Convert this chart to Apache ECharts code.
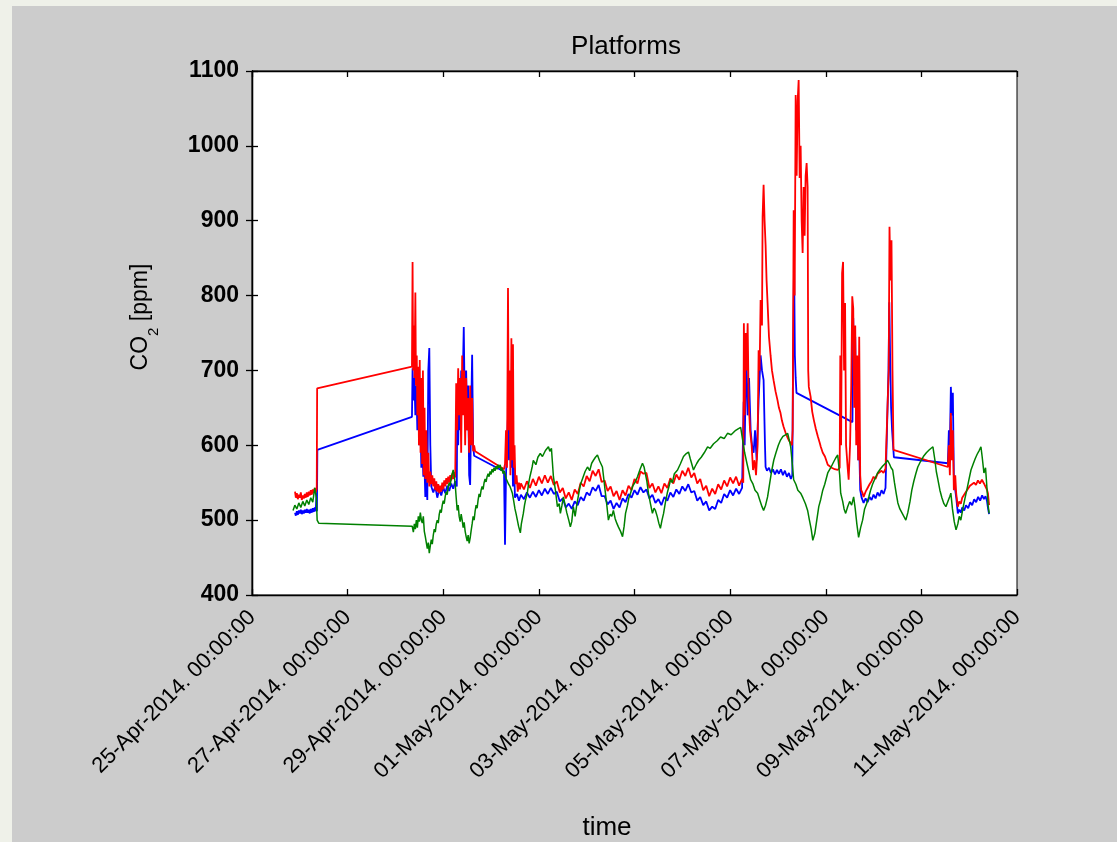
<!DOCTYPE html>
<html>
<head>
<meta charset="utf-8">
<title>Platforms</title>
<script src="https://cdn.jsdelivr.net/npm/echarts@6/dist/echarts.min.js"></script>
<style>
  html, body { margin: 0; padding: 0; background: #eff1e9; }
  #chart { position: absolute; left: 12px; top: 6px; width: 1105px; height: 836px; background: #cccccc; }
</style>
</head>
<body>
<div id="chart"></div>
<script>
// Time is given in hours after 25-Apr-2014 00:00:00; CO2 in ppm.
const timeStartUTC = Date.UTC(2014, 3, 25, 0, 0, 0);
const timeTickHours = [0, 48, 96, 144, 192, 240, 288, 336, 384];
const ppmTicks = [400, 500, 600, 700, 800, 900, 1000, 1100];

// Platform sensor 1 (red)
const redPpm = [
  [21.6,538],[22,530],[22.5,536],[23,528],[23.5,534],[24,530],[24.5,537],[25,527],[25.5,533],[26,529],[26.5,535],[27,530],
  [27.5,537],[28,531],[28.5,538],[29,533],[29.5,540],[30,534],[30.5,541],[31,536],[31.5,543],[32,537],[32.5,542],
  [32.7,676],[80.3,705],
  [80.6,845],[80.9,700],[81.3,760],[81.6,690],[82,804],[82.3,680],[82.7,720],[83,640],[83.4,705],[83.8,600],[84.2,714],
  [84.6,590],[85,690],[85.4,575],[85.8,700],[86.2,560],[86.6,650],[87,555],[87.5,620],[88,550],[88.5,590],[89,545],
  [89.5,565],[90,548],[90.5,560],[91,545],[91.5,556],[92,540],[92.5,552],[93,538],[93.5,548],[94,536],[94.5,546],
  [95,538],[95.5,550],[96,541],[96.5,553],[97,545],[97.5,556],[98,548],[98.5,558],[99,550],[99.5,560],[100,553],
  [100.5,562],[101,555],[101.5,564],[102,557],[102.5,683],[103,620],[103.5,703],[104,640],[104.5,690],[105,590],
  [105.5,720],[106,640],[106.5,700],[107,600],[107.5,690],[108,620],[108.5,663],[109,590],[109.5,680],[110,600],
  [110.5,663],[111,592],[111.5,600],[112,592],
  [126.5,568],[127,575],[127.5,620],[128,570],[128.5,810],[128.9,620],[129.3,700],[129.7,560],[130.2,743],[130.6,580],
  [131,735],[131.4,570],[131.8,600],[132.2,548],[132.8,560],[133.4,538],[134,550],[134.5,541],
  [135,549],[136.5,541],[138,552],[139.5,543],[141,555],[142.5,546],[144,558],[145.5,549],[147,560],[148.5,550],
  [150,559],[151.5,547],[153,552],[154.5,537],[156,543],[157.5,529],[159,537],[160.5,527],[162,541],[163.5,535],
  [165,550],[166.5,545],[168,559],[169.5,552],[171,566],[172.5,559],[174,568],[175.5,551],[177,553],[178.5,539],
  [180,545],[181.5,532],[183,539],[184.5,527],[186,540],[187.5,533],[189,546],[190.5,540],[192,555],[193.5,549],
  [195,565],[196.5,562],[198,563],[199.5,543],[201,549],[202.5,537],[204,545],[205.5,536],[207,549],[208.5,543],
  [210,556],[211.5,549],[213,561],[214.5,554],[216,566],[217.5,559],[219,570],[220.5,557],[222,563],[223.5,549],
  [225,555],[226.5,540],[228,546],[229.5,532],[231,542],[232.5,535],[234,548],[235.5,541],[237,553],[238.5,545],
  [240,557],[241.5,549],[243,558],[244.5,546],[246,555],
  [246.6,550],[246.9,763],[247.3,640],[247.8,750],[248.3,700],[248.8,763],[249.3,660],[250,620],[250.8,600],[251.5,567],
  [252.3,580],[253,560],[253.8,600],[254.3,727],[254.8,700],[255.3,794],[256,760],[256.3,905],[256.8,948],[257.3,900],
  [257.8,868],[258.3,820],[258.8,790],[259.5,745],[260.3,720],[261,700],[261.8,687],[262.8,672],[263.8,660],[264.5,650],
  [265.3,643],[266,633],[266.8,625],[267.8,617],[268.9,610],[269.6,606],[270.4,603],[271,600],
  [271.4,620],[271.9,914],[272.4,800],[272.9,1068],[273.4,960],[273.9,1060],[274.4,1088],[274.9,957],[275.4,1000],
  [275.9,900],[276.4,857],[276.9,945],[277.4,880],[277.9,960],[278.4,977],[278.9,945],[279.2,700],[279.5,678],
  [280.4,665],[281.2,645],[282,634],[283,622],[284,612],[285,603],[285.5,598],[286.5,590],[287.6,585],[288.5,578],
  [289,574],[290,572],[291,570],[292.5,568],[294,567],[295,570],[295.3,720],[295.7,600],[296.2,830],[296.7,845],
  [297.2,700],[297.7,790],[298.2,600],[299,570],[299.5,554],[300.2,600],[300.8,680],[301.3,799],[301.8,783],[302.3,650],
  [302.8,760],[303.3,600],[303.8,720],[304.3,580],[304.8,745],[305.3,560],[305.8,540],[306.5,536],[307,531],[308,538],
  [309,543],[310,548],[311,552],[312,558],[313,555],[314,562],[315,560],[316,566],[317,563],[318,569],[319,571],
  [319.6,700],[320,892],[320.5,820],[321,874],[321.5,700],[322,594],
  [349.3,571],[349.8,600],[350.3,560],[350.8,643],[351.3,580],[351.8,620],[352.3,540],[353,560],[353.5,535],[354.3,518],
  [355,525],[355.8,522],[356.5,530],[357.4,531],[358.4,538],[359.4,540],[360.4,546],[361.4,544],[362.4,550],[363.4,547],
  [364.4,553],[365.4,549],[366.4,554],[367.4,549],[368.4,548],[369,540],[369.4,536],[370,520]
];

// Platform sensor 2 (blue)
const bluePpm = [
  [21.6,510],[22,506],[22.5,512],[23,507],[23.5,513],[24,509],[24.5,514],[25,508],[25.5,513],[26,509],[26.5,514],[27,510],
  [27.5,515],[28,510],[28.5,514],[29,509],[29.5,515],[30,510],[30.5,516],[31,511],[31.5,517],[32,512],[32.4,536],[32.6,512],
  [32.8,594],[80.3,638],
  [80.6,703],[81,660],[81.5,690],[82,640],[82.5,680],[83,620],[83.5,660],[84,600],[84.5,640],[85,570],[85.5,600],
  [86,558],[86.5,580],[87,531],[87.5,560],[88,527],[88.5,700],[89,730],[89.5,600],[90,545],[91,537],[92,545],[93,530],
  [94,541],[95,533],[96,544],[97,536],[98,546],[99,539],[100,549],[101,542],[102,552],[102.8,545],[103,640],[103.5,600],
  [104,690],[104.5,620],[105,700],[105.5,650],[106.3,758],[106.8,650],[107.5,700],[108,620],[108.5,680],[109,560],
  [109.5,547],[110,640],[110.5,721],[111,600],[111.5,586],[112,586],
  [126.5,565],[127,467],[127.5,560],[128,600],[128.5,640],[129,580],[129.5,660],[130,570],[130.5,620],[131,545],
  [131.5,580],[132,530],[133,535],[134,526],
  [135,534],[136.5,528],[138,537],[139.5,530],[141,538],[142.5,531],[144,540],[145.5,533],[147,542],[148.5,535],
  [150,543],[151.5,535],[153,538],[154.5,525],[156,529],[157.5,517],[159,522],[160.5,515],[162,525],[163.5,520],
  [165,531],[166.5,526],[168,537],[169.5,533],[171,544],[172.5,539],[174,547],[175.5,532],[177,532],[178.5,521],
  [180,526],[181.5,515],[183,523],[184.5,517],[186,529],[187.5,524],[189,535],[190.5,530],[192,540],[193.5,534],
  [195,544],[196.5,537],[198,541],[199.5,529],[201,534],[202.5,523],[204,528],[205.5,520],[207,531],[208.5,526],
  [210,537],[211.5,531],[213,541],[214.5,535],[216,545],[217.5,539],[219,548],[220.5,537],[222,539],[223.5,526],
  [225,531],[226.5,520],[228,525],[229.5,513],[231,518],[232.5,515],[234,527],[235.5,523],[237,535],[238.5,530],
  [240,540],[241.5,533],[243,542],[244.5,535],[246,543],
  [246.8,658],[247.3,600],[247.8,680],[248.3,707],[248.8,640],[249.5,690],[250.3,620],[251,600],[251.8,590],[252.5,620],
  [253.3,580],[254.3,660],[255.3,720],[256,700],[256.8,687],[257.5,600],[257.8,571],[258.5,566],[259.5,570],[260.5,563],
  [261.5,568],[262.5,561],[263.5,567],[264.5,562],[265.5,568],[266.5,560],[267.5,566],[268.5,558],[269.5,563],[270.5,555],
  [271.2,560],[271.6,718],[272.1,847],[272.5,720],[272.9,690],[273.3,670],
  [301.4,631],[301.8,770],[302.3,680],[302.8,745],[303.3,620],[303.8,700],[304.3,580],[304.8,600],[305.3,540],[306,530],
  [307,523],[308,529],[309,524],[310,531],[311,527],[312,534],[313,529],[314,537],[315,532],[316,540],[317,535],
  [318,543],[319,545],[319.5,700],[319.9,791],[320.3,720],[320.8,650],[321.3,620],[321.8,600],[322.2,584],
  [349.3,576],[349.8,620],[350.3,600],[350.8,678],[351.3,640],[351.8,670],[352.3,560],[353,540],[353.5,530],[354.3,509],
  [355,514],[355.8,510],[356.5,517],[357.5,513],[358.4,520],[359.5,516],[360.5,524],[361.5,520],[362.5,528],[363.5,524],
  [364.5,531],[365.5,526],[366.5,533],[367.4,528],[368.2,532],[368.9,526],[369.5,515],[370,508]
];

// Platform sensor 3 (green)
const greenPpm = [
  [20.6,513],[21.5,520],[22.5,515],[23.5,523],[24.5,517],[25.5,525],[26.5,519],[27.5,527],[28.5,521],[29.5,530],
  [30.5,524],[31.5,543],[32.3,530],[32.7,500],[33.5,496],[57,494],[58,492],[80.4,492],
  [81,484],[81.5,495],[82,488],[82.5,500],[83,490],[83.5,505],[84,498],[84.5,510],[85,500],[85.5,496],[86,505],
  [86.5,485],[87,478],[87.5,470],[88,462],[88.5,470],[89,456],[89.5,466],[90,474],[90.5,468],[91,480],[91.5,488],
  [92,484],[92.5,495],[93,500],[93.5,496],[94,508],[94.5,514],[95,510],[95.5,520],[96,526],[96.5,522],[97,532],
  [97.5,538],[98,534],[98.5,545],[99,550],[99.5,546],[100,556],[100.5,562],[101,567],[101.5,560],[102,548],[102.5,530],
  [103,513],[103.5,520],[104,505],[104.5,498],[105,508],[105.5,500],[106,490],[106.5,497],[107,485],[107.5,478],
  [108,472],[108.5,480],[109,469],[109.5,476],[110,486],[110.5,495],[111,505],[111.5,500],[112,512],[112.5,520],
  [113,516],[113.5,527],[114,535],[114.5,531],[115,540],[115.5,545],[116,541],[116.5,550],[117,555],[117.5,551],
  [118,558],[118.5,562],[119,558],[119.5,565],[120,561],[120.5,568],[121,564],[121.5,570],[122,566],[122.5,572],
  [123,568],[123.5,574],[124,570],[124.6,574],[125,566],[125.5,570],[126,562],[126.5,566],[127,562],[127.5,556],
  [128.2,558],[128.8,548],[129.5,545],[130.2,540],[130.7,536],[131.4,525],[132,515],[132.6,508],[133.2,500],
  [133.8,492],[134.3,487],[134.7,483],[135.2,495],[135.7,502],[136.2,509],[136.8,520],[137.4,528],[138.2,536],
  [138.8,548],[139.5,558],[140.2,566],[140.7,572],[141.2,580],
  [142.5,574],[143.5,584],[144.7,589],[145.8,585],[147.3,593],[148.8,598],[149.5,592],[150.3,596],[151.3,558],
  [152.3,540],[153.3,518],[154.2,522],[154.8,509],[155.6,520],[156.3,531],[157.2,520],[158,510],[159,500],[159.8,491],
  [160.5,498],[161.3,518],[162.2,505],[163,520],[164,535],[164.9,548],[166,556],[167.2,565],[168.4,571],[169.5,566],
  [170.5,576],[171.4,580],[172.4,584],[173.4,587],[174.5,579],[175.9,571],[176.6,555],[177.4,536],[178.1,520],
  [178.9,500],[179.8,508],[180.6,505],[181.4,513],[182.3,502],[183.1,496],[183.9,491],[185,485],[186,478],[186.8,492],
  [187.5,509],[188.5,520],[189.2,530],[190,536],[191,545],[192.2,550],[193.5,558],[194.8,568],[196,576],[196.8,571],
  [197.5,571],[198.2,552],[199,536],[200,522],[201,509],[201.8,516],[202.5,513],[203.4,505],[204.2,496],[205,489],
  [205.8,500],[206.6,509],[207.6,525],[208.6,538],[209.4,546],[210.1,554],[211,550],[212,562],[213.6,567],[215,575],
  [216.6,585],[218,589],[219.1,591],[220,582],[221.6,567],[222.5,572],[223.3,576],[224.2,580],[225.5,584],[227,590],
  [228.7,598],[230,596],[231.7,602],[233.5,606],[235.2,611],[237,609],[238.7,616],[240.5,614],[242.8,620],[244,622],
  [245.3,624],[246,612],[247.3,590],[248.5,575],[250.3,554],[251.5,548],[252.5,540],[253.8,536],[255,526],[256,518],
  [256.8,513],[257.8,520],[258.8,531],[259.8,548],[260.8,565],[261.9,580],[263,590],[264.2,600],[265.3,607],
  [266.5,612],[267.8,614],[268.9,616],[269.6,608],[270.4,598],[271.2,575],[271.9,554],[273,548],[274,540],[275.4,536],
  [276.5,530],[277.8,522],[278.9,513],[279.8,500],[280.7,488],[281.5,473],[282.5,482],[283.5,500],[284.5,518],
  [285.5,528],[286.5,540],[287.5,548],[289,563],[290.5,570],[292,578],[293,583],[294,587],[295,560],[295.5,536],
  [296.5,525],[297.2,515],[298,509],[299,518],[300,525],[301,520],[302,531],[302.8,515],[303.6,495],[304.5,477],
  [305.5,490],[306.5,500],[307.5,515],[308.5,522],[309.6,531],[310.5,540],[311.5,548],[312.8,556],[314,563],
  [315.3,568],[316.5,572],[318,576],[319,580],[320,575],[320.8,570],[321.6,567],[322.5,550],[323.4,535],[324.2,523],
  [325.2,515],[326.2,510],[327.2,505],[328.2,500],[329.2,510],[330.3,525],[331.2,540],[332.2,552],[333.2,562],
  [334.2,571],[335.5,578],[337,585],[338.5,590],[340,594],[341.8,598],[342.8,580],[343.5,565],[344.3,554],[345.3,540],
  [346.3,530],[347.3,522],[348.3,518],[349.3,525],[350.3,532],[350.8,536],[351.6,515],[352.5,498],[353.4,487],
  [354.3,495],[355,505],[355.8,500],[356.8,515],[357.8,528],[358.8,540],[359.8,553],[360.9,567],[362,575],[363,582],
  [364,588],[365,593],[365.9,598],[366.5,585],[367.4,563],[368.2,570],[369,540],[369.5,520],[370,509]
];

const MONTHS = ['Jan','Feb','Mar','Apr','May','Jun','Jul','Aug','Sep','Oct','Nov','Dec'];
function pad2(n) { return (n < 10 ? '0' : '') + n; }
function hourLabel(h) {
  const d = new Date(timeStartUTC + h * 3600 * 1000);
  return pad2(d.getUTCDate()) + '-' + MONTHS[d.getUTCMonth()] + '-' + d.getUTCFullYear() + '. ' +
    pad2(d.getUTCHours()) + ':' + pad2(d.getUTCMinutes()) + ':' + pad2(d.getUTCSeconds());
}

const FONT = '"Liberation Sans", Arial, Helvetica, sans-serif';
const xMin = timeTickHours[0], xMax = timeTickHours[timeTickHours.length - 1];
const xStep = timeTickHours[1] - timeTickHours[0];
const yMin = ppmTicks[0], yMax = ppmTicks[ppmTicks.length - 1];
const yStep = ppmTicks[1] - ppmTicks[0];

const frameLine = { show: true, lineStyle: { color: '#000', width: 1.3 } };
const innerTick = { show: true, inside: true, length: 6, lineStyle: { color: '#000', width: 1.3 } };

const chart = echarts.init(document.getElementById('chart'), null, { renderer: 'canvas' });
chart.setOption({
  animation: false,
  backgroundColor: '#cccccc',
  grid: { left: 240, top: 65, width: 765, height: 524, show: true, backgroundColor: '#ffffff', borderColor: '#000', borderWidth: 1 },
  xAxis: [
    {
      type: 'value', min: xMin, max: xMax, interval: xStep, position: 'bottom',
      axisLine: frameLine, axisTick: innerTick, splitLine: { show: false },
      axisLabel: { rotate: 45, margin: 19, fontFamily: FONT, fontSize: 22, color: '#000', formatter: hourLabel }
    },
    {
      type: 'value', min: xMin, max: xMax, interval: xStep, position: 'top',
      axisLine: frameLine, axisTick: innerTick, splitLine: { show: false }, axisLabel: { show: false }
    }
  ],
  yAxis: [
    {
      type: 'value', min: yMin, max: yMax, interval: yStep, position: 'left',
      axisLine: frameLine, axisTick: innerTick, splitLine: { show: false },
      axisLabel: { margin: 13, fontFamily: FONT, fontSize: 23, fontWeight: 'bold', color: '#000', formatter: v => String(v) }
    },
    {
      type: 'value', min: yMin, max: yMax, interval: yStep, position: 'right',
      axisLine: frameLine, axisTick: innerTick, splitLine: { show: false }, axisLabel: { show: false }
    }
  ],
  graphic: [
    { type: 'text', x: 614, y: 41, style: { text: 'Platforms', font: '26px ' + FONT, fill: '#000', textAlign: 'center', textVerticalAlign: 'middle' } },
    { type: 'text', x: 595, y: 822, style: { text: 'time', font: '26px ' + FONT, fill: '#000', textAlign: 'center', textVerticalAlign: 'middle' } },
    {
      type: 'text', x: 129, y: 311, rotation: Math.PI / 2,
      style: {
        text: '{a|CO}{b|2}{a| [ppm]}', textAlign: 'center', textVerticalAlign: 'middle', fill: '#000',
        rich: {
          a: { fontFamily: FONT, fontSize: 23, lineHeight: 40, verticalAlign: 'middle', fill: '#000' },
          b: { fontFamily: FONT, fontSize: 15, lineHeight: 15, verticalAlign: 'bottom', fill: '#000' }
        }
      }
    }
  ],
  series: [
    { name: 'blue', type: 'line', data: bluePpm, xAxisIndex: 0, yAxisIndex: 0, showSymbol: false, symbol: 'none',
      lineStyle: { color: '#0000ff', width: 1.8 }, itemStyle: { color: '#0000ff' }, z: 2 },
    { name: 'red', type: 'line', data: redPpm, xAxisIndex: 0, yAxisIndex: 0, showSymbol: false, symbol: 'none',
      lineStyle: { color: '#ff0000', width: 1.8 }, itemStyle: { color: '#ff0000' }, z: 3 },
    { name: 'green', type: 'line', data: greenPpm, xAxisIndex: 0, yAxisIndex: 0, showSymbol: false, symbol: 'none',
      lineStyle: { color: '#008000', width: 1.5 }, itemStyle: { color: '#008000' }, z: 4 }
  ]
});
</script>
</body>
</html>
